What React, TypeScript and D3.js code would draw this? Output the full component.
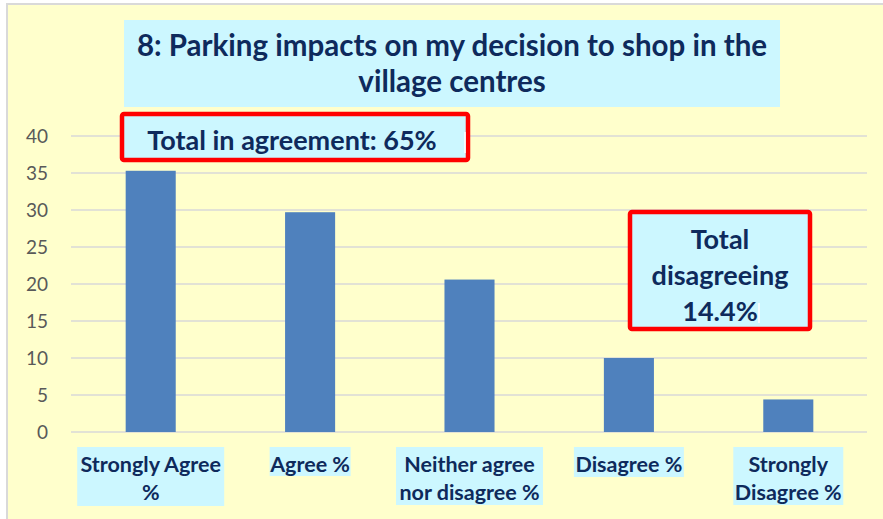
import React from "react";
import * as d3 from "d3";

const categories = [
  ["Strongly Agree", "%"],
  ["Agree %"],
  ["Neither agree", "nor disagree %"],
  ["Disagree %"],
  ["Strongly", "Disagree %"],
];
const values = [35.3, 29.7, 20.6, 10.0, 4.4];
const yTicks = [0, 5, 10, 15, 20, 25, 30, 35, 40];
const titleLines = ["8: Parking impacts on my decision to shop in the", "village centres"];
const agreeNote = ["Total in agreement: 65%"];
const disagreeNote = ["Total", "disagreeing", "14.4%"];

const W = 883, H = 519;
const FONT = "Lato, 'Open Sans', sans-serif";
const NAVY = "#0E2A5C";
const CYAN = "#CCF7FF";

export default function App() {
  const x = d3
    .scaleBand<number>()
    .domain(values.map((_, i) => i))
    .range([71, 868])
    .paddingInner(0.686)
    .paddingOuter(0.343);
  const y = d3.scaleLinear().domain([0, 40]).range([432, 136]);

  const labelBoxes = [
    { w: 147, h: 59 },
    { w: 81, h: 29 },
    { w: 147, h: 58 },
    { w: 110, h: 30 },
    { w: 110, h: 58 },
  ];

  return (
    <svg
      width={W}
      height={H}
      style={{ position: "absolute", left: 0, top: 0, display: "block" }}
      fontFamily={FONT}
    >
      <rect x={0} y={0} width={W} height={H} fill="#ffffff" />
      <rect x={7} y={4} width={W + 10} height={H + 10} fill="#FFFFCC" stroke="#D9D9D9" strokeWidth={2} />

      {yTicks.map((t) => (
        <g key={t}>
          <line x1={71} x2={867} y1={y(t)} y2={y(t)} stroke="#D9D9D9" strokeWidth={1.5} />
          <text x={48} y={y(t)} dy="0.36em" textAnchor="end" fontSize={19} fill="#595959">
            {t}
          </text>
        </g>
      ))}

      {values.map((v, i) => (
        <rect
          key={i}
          x={x(i)!}
          y={y(v)}
          width={x.bandwidth()}
          height={y(0) - y(v)}
          fill="#4F81BD"
        />
      ))}

      {categories.map((lines, i) => {
        const cx = x(i)! + x.bandwidth() / 2;
        const b = labelBoxes[i];
        return (
          <g key={i}>
            <rect x={cx - b.w / 2} y={447} width={b.w} height={b.h} fill={CYAN} />
            {lines.map((l, j) => (
              <text
                key={j}
                x={cx}
                y={472 + j * 28}
                textAnchor="middle"
                fontSize={21.5}
                fontWeight="bold"
                fill={NAVY}
              >
                {l}
              </text>
            ))}
          </g>
        );
      })}

      <rect x={124} y={20} width={656} height={87} fill={CYAN} />
      {titleLines.map((l, j) => (
        <text
          key={j}
          x={452}
          y={56 + j * 36}
          textAnchor="middle"
          fontSize={29.5}
          fontWeight="bold"
          fill={NAVY}
        >
          {l}
        </text>
      ))}

      <rect x={122} y={114} width={346} height={46} rx={2} fill={CYAN} stroke="#FF0000" strokeWidth={4.5} />
      {agreeNote.map((l, j) => (
        <text key={j} x={292} y={150} textAnchor="middle" fontSize={27} fontWeight="bold" fill={NAVY}>
          {l}
        </text>
      ))}
      <line x1={465} x2={465} y1={132} y2={153} stroke="#ffffff" strokeWidth={1.5} />

      <rect x={630} y={212} width={180} height={117} rx={2} fill={CYAN} stroke="#FF0000" strokeWidth={4.5} />
      {disagreeNote.map((l, j) => (
        <text
          key={j}
          x={720}
          y={249 + j * 36}
          textAnchor="middle"
          fontSize={27}
          fontWeight="bold"
          fill={NAVY}
        >
          {l}
        </text>
      ))}
      <line x1={759} x2={759} y1={303} y2={323} stroke="#ffffff" strokeWidth={1.5} />
    </svg>
  );
}
